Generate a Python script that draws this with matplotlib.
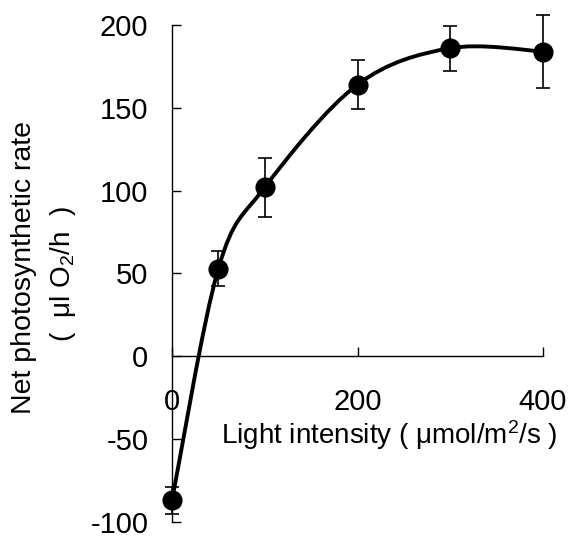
import matplotlib

matplotlib.use("Agg")

import matplotlib.pyplot as plt
from matplotlib.path import Path
from matplotlib.patches import PathPatch

plt.rcParams["font.family"] = ["Liberation Sans", "DejaVu Sans"]
plt.rcParams["mathtext.fontset"] = "custom"
plt.rcParams["mathtext.rm"] = "Liberation Sans"
plt.rcParams["mathtext.it"] = "Liberation Sans:italic"
plt.rcParams["axes.unicode_minus"] = False

# light intensity (umol/m2/s) vs net photosynthetic rate (ul O2/h)
light = [0, 50, 100, 200, 300, 400]
rate = [-87, 53, 102, 164, 186, 184]
rate_err = [8, 10.5, 18, 15, 13.5, 22]

x_ticks = [0, 200, 400]
y_ticks = [-100, -50, 0, 50, 100, 150, 200]


def smooth_path(xs, ys):
    # Excel-style smoothed line: cubic Bezier segments with Catmull-Rom control points
    pts = list(zip(xs, ys))
    n = len(pts)
    verts = [pts[0]]
    codes = [Path.MOVETO]
    for i in range(n - 1):
        p_prev = pts[max(i - 1, 0)]
        p0 = pts[i]
        p1 = pts[i + 1]
        p_next = pts[min(i + 2, n - 1)]
        c1 = (p0[0] + (p1[0] - p_prev[0]) / 6, p0[1] + (p1[1] - p_prev[1]) / 6)
        c2 = (p1[0] - (p_next[0] - p0[0]) / 6, p1[1] - (p_next[1] - p0[1]) / 6)
        verts += [c1, c2, p1]
        codes += [Path.CURVE4] * 3
    return Path(verts, codes)


fig = plt.figure(figsize=(5.71, 5.36), dpi=100)
ax = fig.add_axes([172 / 571, 14 / 536, 371 / 571, 497 / 536])

curve = PathPatch(smooth_path(light, rate), fill=False, edgecolor="black", linewidth=2.8, zorder=2)
ax.add_patch(curve)

container = ax.errorbar(
    light, rate, yerr=rate_err, fmt="o", color="black", markersize=13.5,
    ecolor="black", elinewidth=1.2, capsize=4.7, capthick=1.2, zorder=3,
)
for artist in container.get_children():
    artist.set_clip_on(False)

ax.set_xlim(0, 400)
ax.set_ylim(-100, 200)
ax.set_xticks(x_ticks)
ax.set_yticks(y_ticks)

ax.spines["top"].set_visible(False)
ax.spines["right"].set_visible(False)
ax.spines["bottom"].set_position(("data", 0))
ax.spines["left"].set_linewidth(1.0)
ax.spines["bottom"].set_linewidth(1.0)

ax.tick_params(axis="both", direction="in", length=6.5, width=1.0, labelsize=21)
ax.tick_params(axis="x", pad=23)
ax.tick_params(axis="y", pad=17)

fig.text(389 / 571, 1 - 435 / 536, r"Light intensity ( μmol/m$^2$/s )",
         ha="center", va="center", fontsize=20)
fig.text(24 / 571, 1 - 268 / 536, "Net photosynthetic rate",
         ha="center", va="center", rotation=90, fontsize=20.5)
fig.text(63 / 571, 1 - 274 / 536, r"(  μl O$_2$/h  )",
         ha="center", va="center", rotation=90, fontsize=20)

fig.savefig("out.png", dpi=100)
